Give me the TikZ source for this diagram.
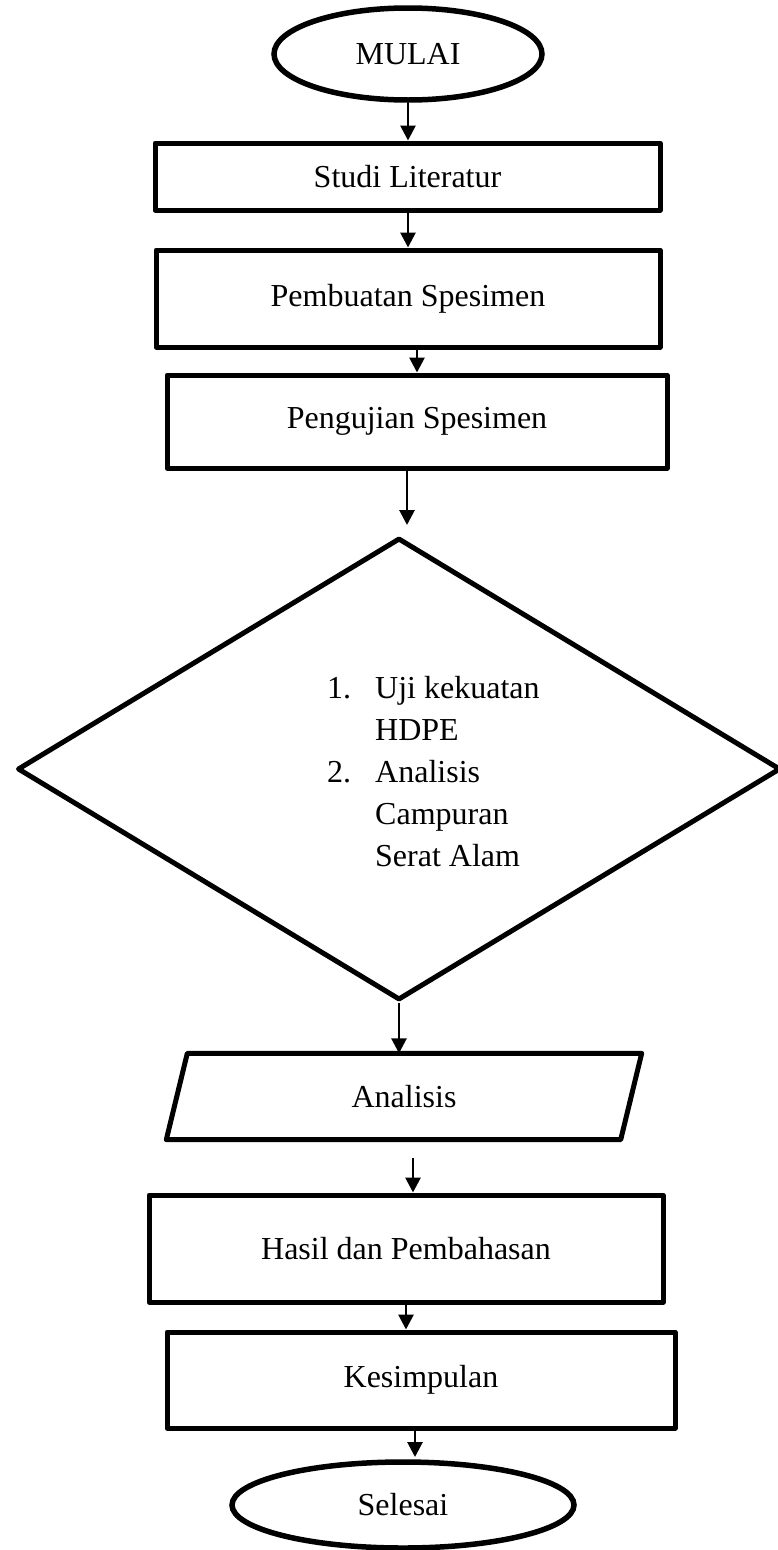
\documentclass[tikz,border=0pt]{standalone}
\usepackage{fontspec}
\setmainfont{Liberation Serif}
\usetikzlibrary{shapes.geometric,arrows.meta}
\begin{document}
\begin{tikzpicture}[x=1pt,y=-1pt,
  txt/.style={font=\fontsize{32}{42}\selectfont},
  boxline/.style={line width=5pt, line join=round},
  procbox/.style={txt, boxline, draw, rectangle, inner sep=0pt},
  termbox/.style={txt, draw, ellipse, line width=5.5pt, inner sep=0pt},
  arr/.style={line width=2.8pt, -{Triangle[width=15pt,length=15pt]}}
]
\useasboundingbox (0,0) rectangle (777,1550);
\fill[white] (0,0) rectangle (777,1550);

\node[termbox, minimum width=268pt, minimum height=92pt] (mulai) at (408,54) {MULAI};
\node[procbox, minimum width=505pt, minimum height=67pt] (studi) at (407.5,176.5) {Studi Literatur};
\node[procbox, minimum width=504pt, minimum height=97pt] (pemb) at (408,298.5) {Pembuatan Spesimen};
\node[procbox, minimum width=500pt, minimum height=93pt] (peng) at (417,421.5) {Pengujian Spesimen};
\node[diamond, boxline, draw, minimum width=763pt, minimum height=462pt, inner sep=0pt] (dia) at (399,769) {};
\node[txt, align=left, anchor=west, inner sep=0pt] (diatext) at (327,772)
  {\makebox[48pt][l]{1.}Uji kekuatan\\\hspace*{48pt}HDPE\\\makebox[48pt][l]{2.}Analisis\\\hspace*{48pt}Campuran\\\hspace*{48pt}Serat Alam};

\node[txt, minimum width=496pt, minimum height=86pt, inner sep=0pt] (ana) at (404,1096.5) {Analisis};
\draw[boxline] ([xshift=-10.5pt]ana.north east) -- ([xshift=-31.5pt]ana.south east) -- ([xshift=10.5pt]ana.south west) -- ([xshift=31.5pt]ana.north west) -- cycle;

\node[procbox, minimum width=514pt, minimum height=107pt] (hasil) at (406,1248.5) {Hasil dan Pembahasan};
\node[procbox, minimum width=508pt, minimum height=96pt] (kes) at (421,1380) {Kesimpulan};
\node[termbox, minimum width=342pt, minimum height=86pt] (selesai) at (403,1505) {Selesai};

\coordinate (c1) at (407,525);
\coordinate (c2) at (413,1158);
\coordinate (c3) at (415,1457);

\draw[arr] (mulai.south) -- (mulai.south |- studi.north);
\draw[arr] (studi.south -| pemb.north) -- (pemb.north);
\draw[arr] (pemb.south -| peng.north) -- (peng.north);
\draw[arr] (peng.south -| c1) -- (c1);
\draw[arr] (dia.south) -- (dia.south |- ana.north);
\draw[arr] (c2) -- (c2 |- hasil.north);
\draw[arr] (hasil.south) -- (hasil.south |- kes.north);
\draw[arr] (kes.south -| c3) -- (c3);
\end{tikzpicture}
\end{document}
